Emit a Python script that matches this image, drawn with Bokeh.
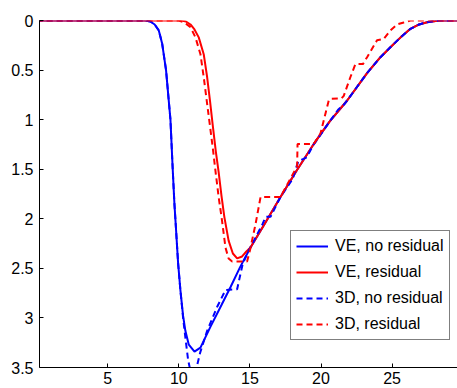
from bokeh.plotting import figure
from bokeh.models import Range1d, FixedTicker, CustomJSTickFormatter, Legend, LegendItem
from bokeh.embed import file_html
from bokeh.resources import INLINE

# ---- data ----
ve_nores_x = [0, 7.6, 8.0, 8.3, 8.59, 8.83, 9.1, 9.41, 9.57, 9.69, 9.8, 9.95, 10.11, 10.3, 10.46, 10.7,
              11.1, 11.52, 12.22, 13.0, 13.63, 14.3, 15.04, 16.0, 17.15, 18.3, 19.49, 20.6, 21.84,
              23.24, 24.18, 24.88, 25.6, 26.29, 26.9, 27.46, 28.3, 29.6]
ve_nores_y = [0, 0, 0.01, 0.04, 0.10, 0.235, 0.5, 1.0, 1.5, 1.85, 2.1, 2.45, 2.72, 2.98, 3.13, 3.27,
              3.34, 3.30, 3.09, 2.87, 2.69, 2.49, 2.29, 2.06, 1.78, 1.51, 1.245, 1.02, 0.807,
              0.53, 0.37, 0.27, 0.17, 0.084, 0.04, 0.017, 0, 0]

ve_res_x = [0, 10.2, 10.5, 10.82, 11.1, 11.4, 11.75, 11.99, 12.2, 12.38, 12.6, 12.8, 13.0, 13.2, 13.5,
            13.8, 14.1, 14.45, 14.75, 15.04, 16.0, 17.15, 18.3, 19.49, 20.6, 21.84,
            23.24, 24.18, 24.88, 25.6, 26.29, 26.9, 27.46, 28.3, 29.6]
ve_res_y = [0, 0, 0.01, 0.04, 0.09, 0.17, 0.34, 0.57, 0.82, 1.05, 1.32, 1.53, 1.77, 1.98, 2.22,
            2.35, 2.40, 2.38, 2.33, 2.29, 2.06, 1.78, 1.51, 1.245, 1.02, 0.807,
            0.53, 0.37, 0.27, 0.17, 0.084, 0.04, 0.017, 0, 0]

d3_nores_x = [0, 7.6, 8.0, 8.3, 8.59, 8.83, 9.1, 9.41, 9.57, 9.69, 9.8, 9.95, 10.11, 10.3, 10.46, 10.65,
              10.85, 11.05, 11.25, 11.5, 11.99, 12.69, 13.28, 14.1, 14.33, 14.5, 14.92, 15.5, 15.9,
              16.1, 16.45, 16.8, 17.15, 18.0, 18.4, 19.0, 19.4, 20.6, 21.2, 21.6, 21.84,
              23.24, 24.18, 24.88, 25.6, 26.29, 26.9, 27.46, 28.3, 29.6]
d3_nores_y = [0, 0, 0.01, 0.04, 0.10, 0.235, 0.5, 1.0, 1.5, 1.85, 2.1, 2.45, 2.72, 3.0, 3.2, 3.42,
              3.56, 3.6, 3.5, 3.35, 3.13, 2.89, 2.72, 2.71, 2.56, 2.45, 2.32, 2.16, 2.05,
              1.98, 1.98, 1.88, 1.78, 1.60, 1.42, 1.38, 1.27, 1.02, 0.9, 0.85, 0.807,
              0.53, 0.37, 0.27, 0.17, 0.084, 0.04, 0.017, 0, 0]

d3_res_x = [0, 10.0, 10.4, 10.82, 11.17, 11.52, 11.75, 11.99, 12.17, 12.4, 12.57, 12.8, 13.04, 13.28,
            13.5, 13.75, 14.8, 15.0, 15.4, 15.75, 17.15, 18.32, 18.35, 19.5, 19.96, 20.54, 20.66,
            21.45, 21.6, 22.07, 22.42, 22.95, 23.24, 23.94, 24.41, 24.88, 25.35, 25.82, 26.29, 29.6]
d3_res_y = [0, 0, 0.02, 0.067, 0.17, 0.34, 0.57, 0.84, 1.04, 1.30, 1.51, 1.78, 2.02, 2.29,
            2.40, 2.43, 2.43, 2.32, 2.05, 1.78, 1.78, 1.47, 1.245, 1.245, 1.14, 0.81, 0.79,
            0.785, 0.76, 0.57, 0.44, 0.44, 0.37, 0.20, 0.185, 0.10, 0.04, 0.02, 0.0, 0]

x_ticks = [5, 10, 15, 20, 25]
y_ticks = [0, 0.5, 1, 1.5, 2, 2.5, 3, 3.5]
labels = ["VE, no residual", "VE, residual", "3D, no residual", "3D, residual"]

FONT = "Liberation Sans"

p = figure(width=457, height=388, output_backend="svg", toolbar_location=None,
           x_range=Range1d(0.2, 29.6), y_range=Range1d(3.5, 0))
p.min_border_left = 39
p.min_border_right = 0
p.min_border_top = 20
p.min_border_bottom = 21
p.outline_line_color = None
p.xgrid.visible = False
p.ygrid.visible = False
p.background_fill_color = "white"
p.border_fill_color = "white"

for ax in (p.xaxis[0], p.yaxis[0]):
    ax.axis_line_color = "black"
    ax.axis_line_width = 1
    ax.major_tick_line_color = "black"
    ax.major_tick_in = 4
    ax.major_tick_out = 0
    ax.minor_tick_line_color = None
    ax.major_label_text_font = FONT
    ax.major_label_text_font_size = "16px"
    ax.major_label_text_color = "black"

p.xaxis[0].ticker = FixedTicker(ticks=x_ticks)
p.yaxis[0].ticker = FixedTicker(ticks=y_ticks)
p.yaxis[0].formatter = CustomJSTickFormatter(code="return tick.toString();")
p.xaxis[0].major_label_standoff = 4
p.yaxis[0].major_label_standoff = 6

r1 = p.line(ve_nores_x, ve_nores_y, line_color="#0000ff", line_width=2)
r2 = p.line(ve_res_x, ve_res_y, line_color="#ff0000", line_width=2)
r3 = p.line(d3_nores_x, d3_nores_y, line_color="#0000ff", line_width=2, line_dash="6 4")
r4 = p.line(d3_res_x, d3_res_y, line_color="#ff0000", line_width=2, line_dash="6 4")

legend = Legend(items=[LegendItem(label=labels[0], renderers=[r1]),
                       LegendItem(label=labels[1], renderers=[r2]),
                       LegendItem(label=labels[2], renderers=[r3]),
                       LegendItem(label=labels[3], renderers=[r4])],
                location=(251, 27))
legend.label_text_font = FONT
legend.label_text_font_size = "16px"
legend.label_text_color = "black"
legend.glyph_width = 32
legend.glyph_height = 20
legend.label_height = 20
legend.label_standoff = 7
legend.spacing = 6
legend.padding = 5
legend.margin = 0
legend.border_line_color = "black"
legend.border_line_width = 1
legend.background_fill_color = "white"
legend.background_fill_alpha = 1
p.add_layout(legend, "center")

open("out.html", "w").write(file_html(p, INLINE))
